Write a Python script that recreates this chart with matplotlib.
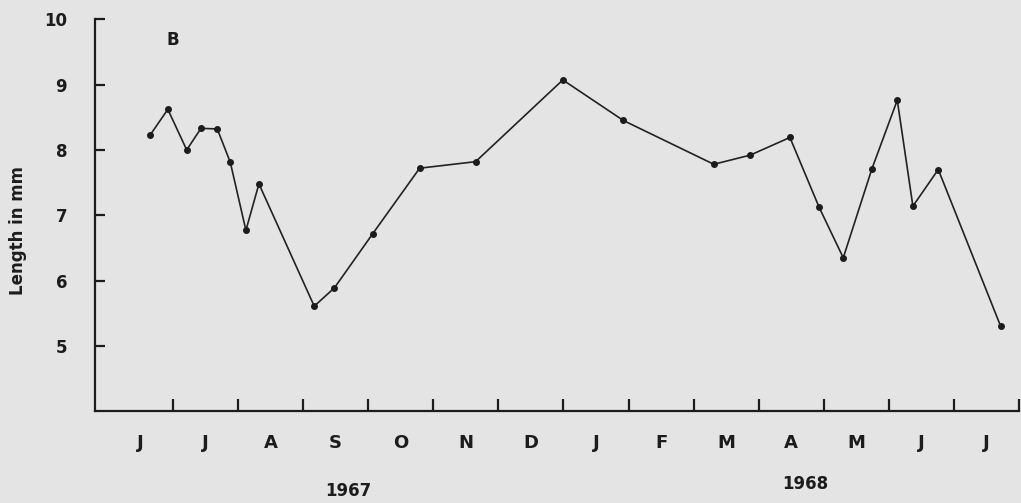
import numpy as np
import matplotlib.pyplot as plt

# months counted from 1 June 1967, lengths in mm
months = [0.65, 0.92, 1.21, 1.43, 1.68, 1.88, 2.12, 2.32, 3.17, 3.48, 4.07, 4.79, 5.65,
          6.99, 7.92, 9.31, 9.87, 10.48, 10.93, 11.30, 11.74, 12.13, 12.37, 12.76, 13.72]
length_mm = [8.23, 8.62, 8.00, 8.33, 8.32, 7.81, 6.77, 7.48, 5.61, 5.89, 6.72, 7.72, 7.82,
             9.07, 8.45, 7.78, 7.92, 8.19, 7.12, 6.35, 7.71, 8.76, 7.14, 7.70, 5.30]
month_labels = ["J", "J", "A", "S", "O", "N", "D", "J", "F", "M", "A", "M", "J", "J"]
y_ticks = [5, 6, 7, 8, 9, 10]

bg = "#e4e4e4"
ink = "#1c1c1c"

fig = plt.figure(figsize=(10.21, 5.03), dpi=100, facecolor=bg)
ax = fig.add_axes([0.093, 0.182, 0.905, 0.780], facecolor=bg)

ax.plot(months, length_mm, color="#222222", lw=1.2, marker="o", ms=4,
        mfc=ink, mec=ink, clip_on=False)

ax.set_xlim(-0.2, 14.0)
ax.set_ylim(4.0, 10.0)

for s in ["top", "right"]:
    ax.spines[s].set_visible(False)
for s in ["left", "bottom"]:
    ax.spines[s].set_linewidth(1.6)
    ax.spines[s].set_color(ink)

# month boundaries as ticks, labels centred in each month
ax.set_xticks(np.arange(1, 15))
ax.set_xticklabels([])
ax.set_xticks(np.arange(len(month_labels)) + 0.5, minor=True)
ax.set_xticklabels(month_labels, minor=True, fontsize=13, fontweight="bold", color=ink)
ax.tick_params(axis="x", which="major", direction="in", length=9, width=1.6, color=ink)
ax.tick_params(axis="x", which="minor", length=0, pad=16)

ax.set_yticks(y_ticks)
ax.set_yticklabels([str(v) for v in y_ticks], fontsize=12, fontweight="bold", color=ink)
ax.tick_params(axis="y", direction="in", length=7, width=1.6, color=ink, pad=20)

ax.text(0.9, 9.6, "B", fontsize=12, fontweight="bold", color=ink)
ax.text(3.69, 2.79, "1967", fontsize=12, fontweight="bold", color=ink,
        ha="center", va="center", clip_on=False)
ax.text(10.71, 2.89, "1968", fontsize=12, fontweight="bold", color=ink,
        ha="center", va="center", clip_on=False)

fig.text(0.018, 0.541, "Length in mm", rotation=90, fontsize=12, fontweight="bold",
         color=ink, ha="center", va="center")

fig.savefig("out.png", dpi=100, facecolor=bg)
